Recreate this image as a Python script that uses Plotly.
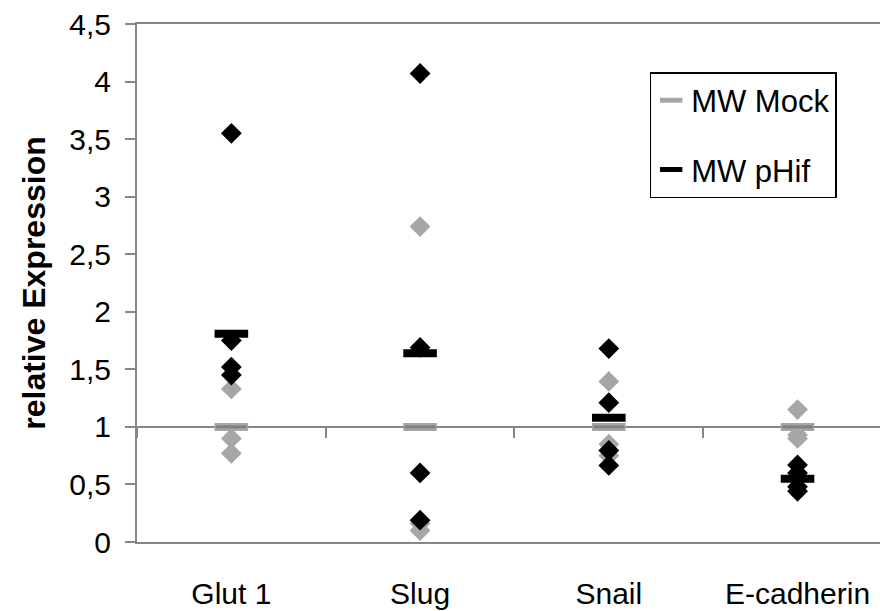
import plotly.graph_objects as go

# Genes on the category axis
categories = ["Glut 1", "Slug", "Snail", "E-cadherin"]

# Individual relative expression values per gene
mock_values = [
    [1.33, 0.90, 0.77],
    [2.74, 0.16, 0.10],
    [1.395, 0.85, 0.75],
    [1.15, 0.93, 0.90],
]
phif_values = [
    [3.55, 1.75, 1.52, 1.45],
    [4.07, 1.69, 0.60, 0.19],
    [1.68, 1.21, 0.795, 0.665],
    [0.67, 0.60, 0.48, 0.44],
]

# Mean values (MW = Mittelwert)
mock_mean = [1.0, 1.0, 1.0, 1.0]
phif_mean = [1.81, 1.64, 1.08, 0.55]

y_ticks = [0, 0.5, 1, 1.5, 2, 2.5, 3, 3.5, 4, 4.5]

FONT = "Liberation Sans, Arial, sans-serif"
AXIS_GREY = "#868686"
LIGHT_GREY = "#a6a6a6"


def flatten(groups):
    xs, ys = [], []
    for cat, vals in zip(categories, groups):
        xs += [cat] * len(vals)
        ys += vals
    return xs, ys


fig = go.Figure()

# invisible carrier so the bottom category axis knows its categories
fig.add_trace(go.Scatter(
    x=categories, y=mock_mean, mode="markers", showlegend=False,
    hoverinfo="skip", marker=dict(opacity=0), xaxis="x",
))

mx, my = flatten(mock_values)
fig.add_trace(go.Scatter(
    x=mx, y=my, mode="markers", showlegend=False, hoverinfo="y",
    marker=dict(symbol="diamond", size=16, color=LIGHT_GREY, line=dict(width=0)),
    xaxis="x2",
))

px_, py_ = flatten(phif_values)
fig.add_trace(go.Scatter(
    x=px_, y=py_, mode="markers", showlegend=False, hoverinfo="y",
    marker=dict(symbol="diamond", size=16, color="black", line=dict(width=0)),
    xaxis="x2",
))

# Mean bars
fig.add_trace(go.Scatter(
    x=categories, y=mock_mean, mode="markers", name="MW Mock",
    legendgroup="mock",
    marker=dict(symbol="line-ew-open", size=24, color=LIGHT_GREY,
                line=dict(width=8, color=LIGHT_GREY)),
    xaxis="x2",
))
fig.add_trace(go.Scatter(
    x=categories, y=mock_mean, mode="markers", showlegend=False,
    legendgroup="mock", hoverinfo="skip",
    marker=dict(symbol="line-ew-open", size=22, color="#808080",
                line=dict(width=3, color="#808080")),
    xaxis="x2",
))
fig.add_trace(go.Scatter(
    x=categories, y=phif_mean, mode="markers", name="MW pHif",
    legendgroup="phif",
    marker=dict(symbol="line-ew-open", size=24, color="black",
                line=dict(width=8, color="black")),
    xaxis="x2",
))

x_range = [-0.5, 3.437]

fig.update_layout(
    width=880, height=611,
    margin=dict(l=137, r=0, t=24, b=69, pad=0),
    paper_bgcolor="white", plot_bgcolor="white",
    separators=", ",
    font=dict(family=FONT, size=30, color="black"),
    xaxis=dict(
        type="category", categoryorder="array", categoryarray=categories,
        range=x_range, showgrid=False, zeroline=False, automargin=False,
        showline=True, mirror=True, linecolor=AXIS_GREY, linewidth=2,
        ticks="", ticklabelstandoff=24,
        tickfont=dict(family=FONT, size=30, color="black"),
    ),
    xaxis2=dict(
        type="category", categoryorder="array", categoryarray=categories,
        overlaying="x", matches="x", anchor="free", position=1 / 4.5,
        showgrid=False, zeroline=False, showticklabels=False,
        automargin=False,
        showline=True, linecolor=AXIS_GREY, linewidth=2,
        ticks="outside", tickson="boundaries", ticklen=10, tickwidth=2,
        tickcolor=AXIS_GREY, layer="below traces",
    ),
    yaxis=dict(
        range=[0, 4.5], tickvals=y_ticks, showgrid=False, zeroline=False,
        automargin=False,
        showline=True, linecolor=AXIS_GREY, linewidth=2,
        ticks="outside", ticklen=10, tickwidth=2, tickcolor=AXIS_GREY,
        ticklabelstandoff=8,
        tickfont=dict(family=FONT, size=30, color="black"),
        title=dict(text="<b>relative Expression</b>", standoff=14,
                   font=dict(family=FONT, size=32, color="black")),
    ),
    legend=dict(
        x=0.69, y=0.907, xanchor="left", yanchor="top",
        bordercolor="black", borderwidth=1.5, bgcolor="white",
        font=dict(family=FONT, size=31, color="black"),
        tracegroupgap=26, itemwidth=30,
    ),
)

fig.write_html("out.html")
